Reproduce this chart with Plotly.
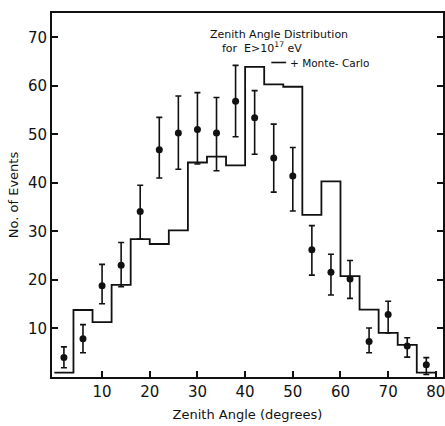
import plotly.graph_objects as go

# Monte-Carlo histogram (4-degree bins)
bin_edges = [0, 4, 8, 12, 16, 20, 24, 28, 32, 36, 40, 44, 48, 52, 56, 60, 64, 68, 72, 76, 80]
mc_counts = [0.9, 13.8, 11.3, 19.0, 28.4, 27.4, 30.2, 44.2, 45.4, 43.6,
             63.9, 60.3, 59.8, 33.4, 40.3, 20.8, 13.9, 9.1, 6.6, 0.9]

# Observed events with error bars
angles = [2, 6, 10, 14, 18, 22, 26, 30, 34, 38, 42, 46, 50, 54, 58, 62, 66, 70, 74, 78]
events = [4.0, 7.9, 18.8, 23.0, 34.1, 46.8, 50.3, 51.0, 50.3, 56.8,
          53.4, 45.1, 41.4, 26.2, 21.6, 20.2, 7.3, 12.9, 6.4, 2.5]
err_up = [2.2, 2.9, 4.4, 4.7, 5.4, 6.7, 7.6, 7.6, 7.3, 7.4,
          5.6, 7.0, 5.9, 5.0, 3.7, 3.8, 2.8, 2.7, 1.7, 1.5]
err_dn = [2.1, 2.9, 3.7, 4.4, 5.7, 5.8, 7.5, 7.1, 7.8, 7.3,
          7.5, 7.0, 7.2, 5.2, 4.7, 4.0, 2.3, 3.8, 2.3, 2.0]

xticks = [10, 20, 30, 40, 50, 60, 70, 80]
yticks = [10, 20, 30, 40, 50, 60, 70]

ink = "#111111"
font_family = "DejaVu Sans"

fig = go.Figure()

fig.add_trace(go.Scatter(
    x=bin_edges, y=mc_counts + [mc_counts[-1]],
    mode="lines", line=dict(shape="hv", color=ink, width=1.8),
    showlegend=False, hoverinfo="skip"))

fig.add_trace(go.Scatter(
    x=angles, y=events, mode="markers",
    marker=dict(color=ink, size=7),
    error_y=dict(type="data", symmetric=False, array=err_up, arrayminus=err_dn,
                 color=ink, thickness=1.6, width=3),
    showlegend=False))

fig.add_annotation(x=47.2, y=70.6, xref="x", yref="y", text="Zenith Angle Distribution",
                   showarrow=False, font=dict(size=11, color=ink, family=font_family))
fig.add_annotation(x=43.5, y=67.9, xref="x", yref="y", text="for  E>10<sup>17</sup> eV",
                   showarrow=False, font=dict(size=11, color=ink, family=font_family))
fig.add_shape(type="line", x0=45.5, x1=48.6, y0=64.8, y1=64.8, xref="x", yref="y",
              line=dict(color=ink, width=1.6))
fig.add_annotation(x=48.9, y=64.8, xref="x", yref="y", text="+ Monte- Carlo", xanchor="left",
                   showarrow=False, font=dict(size=10.5, color=ink, family=font_family))

fig.update_xaxes(range=[-0.5, 81.5], tickvals=xticks, ticktext=[str(v) for v in xticks],
                 ticks="inside", ticklen=6, tickwidth=1.5, tickcolor=ink,
                 showline=True, linecolor=ink, linewidth=1.8, mirror=True,
                 showgrid=False, zeroline=False, automargin=False,
                 ticklabeloverflow="allow",
                 tickfont=dict(size=15, color=ink, family=font_family),
                 title=dict(text="Zenith Angle (degrees)", standoff=10,
                            font=dict(size=13, color=ink, family=font_family)))
fig.update_yaxes(range=[0, 75], tickvals=yticks, ticktext=[str(v) for v in yticks],
                 ticks="inside", ticklen=6, tickwidth=1.5, tickcolor=ink,
                 showline=True, linecolor=ink, linewidth=1.8, mirror="ticks",
                 showgrid=False, zeroline=False, automargin=False,
                 ticklabeloverflow="allow",
                 tickfont=dict(size=15, color=ink, family=font_family),
                 title=dict(text="No. of Events", standoff=6,
                            font=dict(size=13, color=ink, family=font_family)))

fig.update_layout(width=445, height=426, margin=dict(l=52, r=2, t=13, b=49),
                  paper_bgcolor="white", plot_bgcolor="white")

# remove the page's default body margin so the figure fills the window exactly
fig.write_html("out.html", config={"displayModeBar": False},
               post_script="document.body.style.margin='0';document.body.style.overflow='hidden';")
